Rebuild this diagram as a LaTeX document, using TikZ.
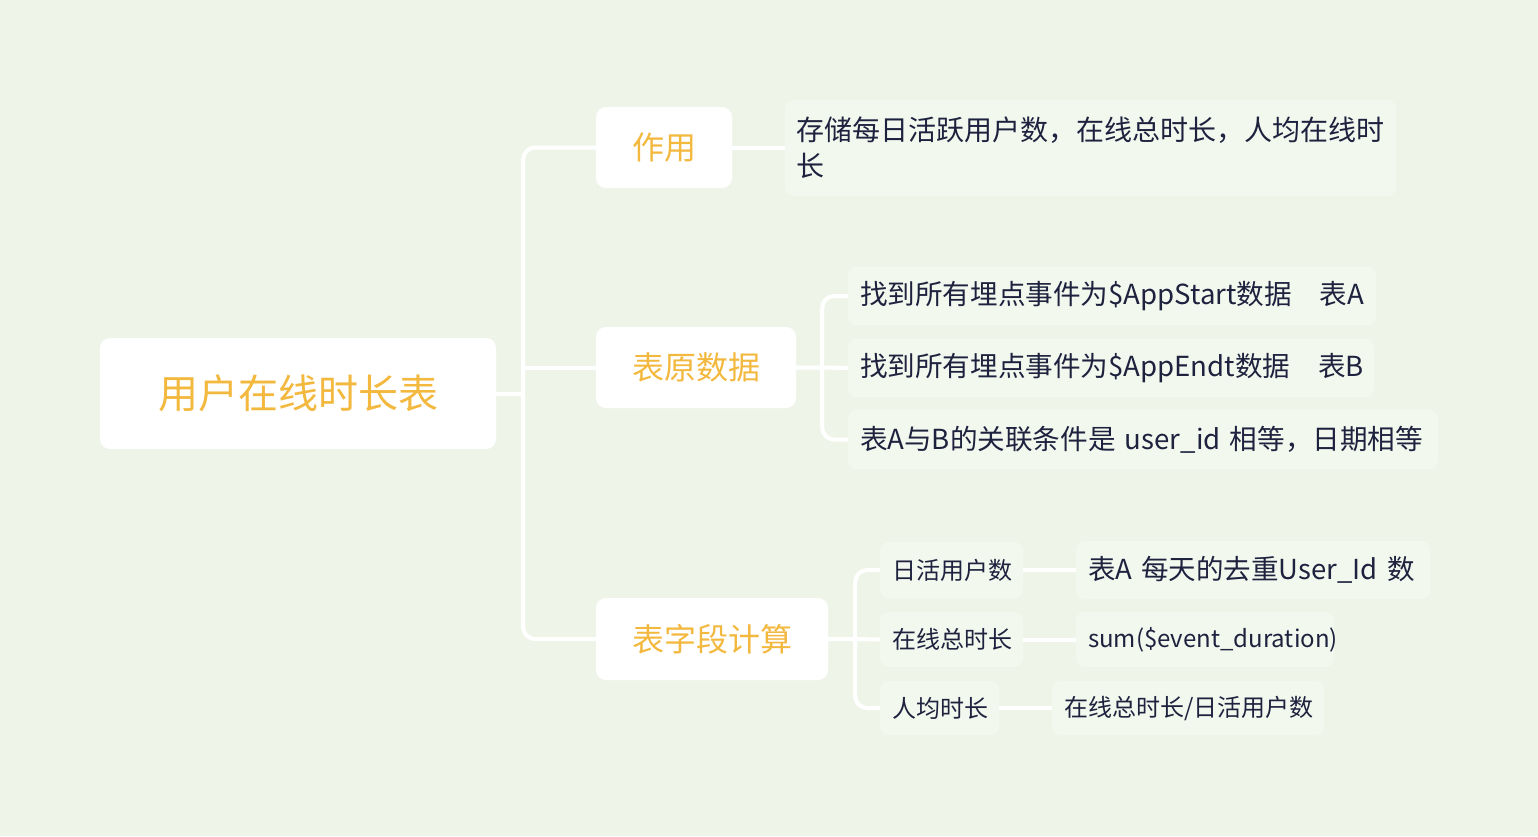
\documentclass[tikz,border=0pt]{standalone}
\usepackage{fontspec}
\setmainfont{Noto Sans CJK SC}
\definecolor{bg}{RGB}{238,245,232}
\definecolor{leaf}{RGB}{243,248,238}
\definecolor{orng}{RGB}{243,184,62}
\definecolor{ink}{RGB}{30,34,62}
\tikzset{
  box/.style={rounded corners=10pt, inner ysep=0pt, fill=white, draw=none, align=center},
  rootbox/.style={box, text=orng, font=\fontsize{40}{48}\selectfont},
  topic/.style={box, text=orng, font=\fontsize{32}{38}\selectfont},
  leafbox/.style={rounded corners=9pt, inner ysep=0pt, inner xsep=12pt, fill=leaf, draw=none, text=ink, align=left},
  conn/.style={draw=white, line width=4pt, rounded corners=12pt},
}
\begin{document}
\begin{tikzpicture}[x=1pt,y=-1pt]
\fill[bg] (0,0) rectangle (1538,836);
\useasboundingbox (0,0) rectangle (1538,836);
% root and topics
\node[rootbox, minimum width=396pt, minimum height=111pt] (root) at (298,393.5) {用户在线时长表};
\node[topic, minimum width=136pt, minimum height=81pt] (z1) at (664,147.5) {作用};
\node[topic, minimum width=200pt, minimum height=81pt] (z2) at (696,367.5) {表原数据};
\node[topic, minimum width=232pt, minimum height=82pt] (z3) at (712,639) {表字段计算};
% leaves
\node[leafbox, font=\fontsize{28}{36}\selectfont, inner xsep=11pt, text width=589pt, minimum height=96pt] (desc) at (1090.5,148) {\mbox{存储每日活跃用户数，在线总时长，人均在线时}\\长};
\node[leafbox, font=\fontsize{27.6}{32}\selectfont, text width=504pt, minimum height=58pt] (a1) at (1112,296) {\mbox{找到所有埋点事件为\$AppStart数据\ \ \ 表A}};
\node[leafbox, font=\fontsize{27.6}{32}\selectfont, text width=502pt, minimum height=58pt] (a2) at (1111,368) {\mbox{找到所有埋点事件为\$AppEndt数据\ \ \ 表B}};
\node[leafbox, font=\fontsize{27.6}{32}\selectfont, text width=566pt, minimum height=59pt] (a3) at (1143,439.5) {\mbox{表A与B的关联条件是 user\_id 相等，日期相等}};
\node[leafbox, font=\fontsize{24}{28}\selectfont, text width=119pt, minimum height=56pt] (c1) at (951.5,570) {\mbox{日活用户数}};
\node[leafbox, font=\fontsize{24}{28}\selectfont, text width=119pt, minimum height=55pt] (c2) at (951.5,639.5) {\mbox{在线总时长}};
\node[leafbox, font=\fontsize{24}{28}\selectfont, text width=95pt, minimum height=54pt] (c3) at (939.5,708) {\mbox{人均时长}};
\node[leafbox, font=\fontsize{27.5}{32}\selectfont, text width=330pt, minimum height=58pt] (d1) at (1253,570) {\mbox{表A 每天的去重User\_Id 数}};
\node[leafbox, font=\fontsize{24}{28}\selectfont, text width=234pt, minimum height=55pt] (d2) at (1205,639.5) {\mbox{sum(\$event\_duration)}};
\node[leafbox, font=\fontsize{24}{28}\selectfont, text width=248pt, minimum height=54pt] (d3) at (1188,708) {\mbox{在线总时长/日活用户数}};
% connectors
\draw[conn] (root.east) -- ++(27,0) coordinate (t);
\draw[conn] (z1.west) -- (t |- z1.west) -- (t |- z3.west) -- (z3.west);
\draw[conn] (t |- z2.west) -- (z2.west);
\draw[conn] (z1.east) -- (desc.west |- z1.east);
\draw[conn] (z2.east) -- ++(26,0) coordinate (u) -- (a2.west);
\draw[conn] (a1.west) -- (u |- a1.west) -- (u |- a3.west) -- (a3.west);
\draw[conn] (z3.east) -- ++(27,0) coordinate (v) -- (c2.west);
\draw[conn] (c1.west) -- (v |- c1.west) -- (v |- c3.west) -- (c3.west);
\draw[conn] (c1.east) -- (d1.west);
\draw[conn] (c2.east) -- (d2.west);
\draw[conn] (c3.east) -- (d3.west);
\end{tikzpicture}
\end{document}
